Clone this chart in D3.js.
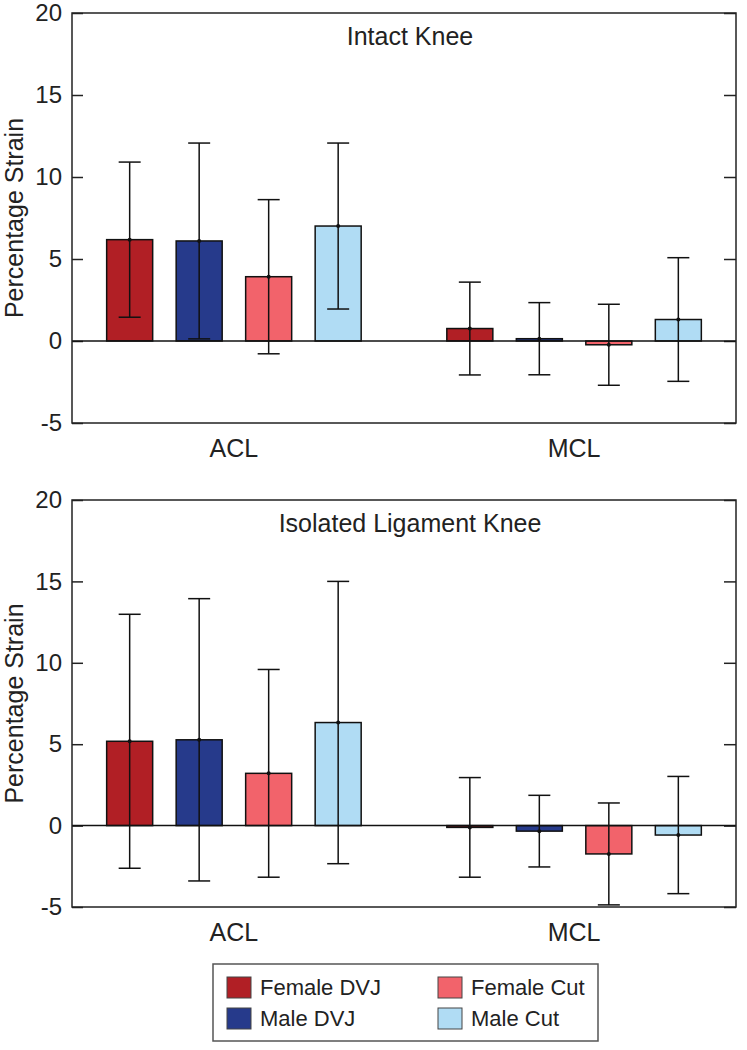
<!DOCTYPE html>
<html>
<head>
<meta charset="utf-8">
<script src="https://cdn.jsdelivr.net/npm/d3@7"></script>
<style>
  body { margin: 0; background: #fff; }
  svg { display: block; font-family: "Liberation Sans", Arial, sans-serif; }
</style>
</head>
<body>
<div id="chart"></div>
<script>
// data
var ligaments = ["ACL", "MCL"];
var series = ["Female DVJ", "Male DVJ", "Female Cut", "Male Cut"];
var colors = ["#b11f25", "#263a8b", "#f2636b", "#b0dcf4"];
var yTicks = [-5, 0, 5, 10, 15, 20];

// mean strain per ligament, one value per series
var intactMean = [[6.18, 6.10, 3.92, 7.01], [0.76, 0.14, -0.23, 1.31]];
var intactSd = [[4.73, 5.97, 4.70, 5.06], [2.83, 2.20, 2.47, 3.77]];
var isolatedMean = [[5.18, 5.27, 3.21, 6.33], [-0.11, -0.34, -1.74, -0.58]];
var isolatedSd = [[7.80, 8.67, 6.38, 8.67], [3.06, 2.20, 3.13, 3.60]];

var panels = [
  { title: "Intact Knee", mean: intactMean, sd: intactSd, top: 13, bottom: 423 },
  { title: "Isolated Ligament Knee", mean: isolatedMean, sd: isolatedSd, top: 500, bottom: 907 }
];

var svg = d3.select("#chart").append("svg")
  .attr("width", 747)
  .attr("height", 1050);

var left = 72, right = 736;

var x0 = d3.scalePoint().domain(ligaments).range([left, right]).padding(0.476);
var x1 = d3.scaleBand().domain(series).range([-139, 139]).paddingInner(0.338).paddingOuter(0.169);
var color = d3.scaleOrdinal().domain(series).range(colors);

panels.forEach(function(p) {
  var y = d3.scaleLinear().domain([-5, 20]).range([p.bottom, p.top]);
  var g = svg.append("g");

  // left axis, ticks pointing inward
  var ya = g.append("g")
    .attr("transform", "translate(" + left + ",0)")
    .call(d3.axisLeft(y).tickValues(yTicks).tickSize(-11).tickPadding(10)
      .tickFormat(function(d) { return String(d); }));
  ya.select(".domain").remove();
  ya.selectAll("line").attr("stroke", "#222").attr("stroke-width", 1.5);
  ya.selectAll("text").attr("font-size", 24).attr("fill", "#222")
    .attr("font-family", "Liberation Sans, Arial, sans-serif");

  var yr = g.append("g")
    .attr("transform", "translate(" + right + ",0)")
    .call(d3.axisRight(y).tickValues(yTicks).tickSize(-12).tickFormat(""));
  yr.select(".domain").remove();
  yr.selectAll("line").attr("stroke", "#222").attr("stroke-width", 1.5);

  g.append("text")
    .attr("transform", "translate(23," + ((p.top + p.bottom) / 2) + ") rotate(-90)")
    .attr("text-anchor", "middle")
    .attr("font-size", 25)
    .attr("fill", "#222")
    .text("Percentage Strain");

  g.append("text")
    .attr("x", 410)
    .attr("y", p.top + 32)
    .attr("text-anchor", "middle")
    .attr("font-size", 25)
    .attr("fill", "#222")
    .text(p.title);

  ligaments.forEach(function(lig, li) {
    g.append("text")
      .attr("x", x0(lig))
      .attr("y", p.bottom + 34)
      .attr("text-anchor", "middle")
      .attr("font-size", 25)
      .attr("fill", "#222")
      .text(lig);

    var rows = series.map(function(s, si) {
      return { s: s, m: p.mean[li][si], sd: p.sd[li][si] };
    });

    var grp = g.append("g").attr("transform", "translate(" + x0(lig) + ",0)");

    grp.selectAll("rect")
      .data(rows)
      .enter().append("rect")
      .attr("x", function(d) { return x1(d.s); })
      .attr("y", function(d) { return y(Math.max(0, d.m)); })
      .attr("width", x1.bandwidth())
      .attr("height", function(d) { return Math.abs(y(d.m) - y(0)); })
      .attr("fill", function(d) { return color(d.s); })
      .attr("stroke", "#111")
      .attr("stroke-width", 1.5);

    var eb = grp.selectAll("g.err")
      .data(rows)
      .enter().append("g")
      .attr("class", "err")
      .attr("transform", function(d) { return "translate(" + (x1(d.s) + x1.bandwidth() / 2) + ",0)"; });

    eb.append("line")
      .attr("y1", function(d) { return y(d.m + d.sd); })
      .attr("y2", function(d) { return y(d.m - d.sd); })
      .attr("stroke", "#111").attr("stroke-width", 1.5);
    eb.append("line")
      .attr("x1", -11).attr("x2", 11)
      .attr("y1", function(d) { return y(d.m + d.sd); })
      .attr("y2", function(d) { return y(d.m + d.sd); })
      .attr("stroke", "#111").attr("stroke-width", 1.5);
    eb.append("line")
      .attr("x1", -11).attr("x2", 11)
      .attr("y1", function(d) { return y(d.m - d.sd); })
      .attr("y2", function(d) { return y(d.m - d.sd); })
      .attr("stroke", "#111").attr("stroke-width", 1.5);
    eb.append("circle")
      .attr("cy", function(d) { return y(d.m); })
      .attr("r", 2)
      .attr("fill", "#111");
  });

  // zero line and frame
  g.append("line")
    .attr("x1", left).attr("x2", right)
    .attr("y1", y(0)).attr("y2", y(0))
    .attr("stroke", "#111").attr("stroke-width", 1.5);
  g.append("rect")
    .attr("x", left).attr("y", p.top)
    .attr("width", right - left).attr("height", p.bottom - p.top)
    .attr("fill", "none").attr("stroke", "#222").attr("stroke-width", 1.5);
});

// legend
var legend = svg.append("g");
legend.append("rect")
  .attr("x", 213).attr("y", 964)
  .attr("width", 385).attr("height", 77)
  .attr("fill", "#fff").attr("stroke", "#555").attr("stroke-width", 1.5);

var items = legend.selectAll("g.item")
  .data(series)
  .enter().append("g")
  .attr("class", "item")
  .attr("transform", function(d, i) {
    var col = i >= 2 ? 1 : 0, row = i % 2;
    return "translate(" + (227 + col * 211) + "," + (977 + row * 31) + ")";
  });
items.append("rect")
  .attr("width", 24).attr("height", 21)
  .attr("fill", function(d) { return color(d); })
  .attr("stroke", "#444").attr("stroke-width", 1);
items.append("text")
  .attr("x", 33).attr("y", 18)
  .attr("font-size", 22)
  .attr("fill", "#222")
  .text(function(d) { return d; });
</script>
</body>
</html>
